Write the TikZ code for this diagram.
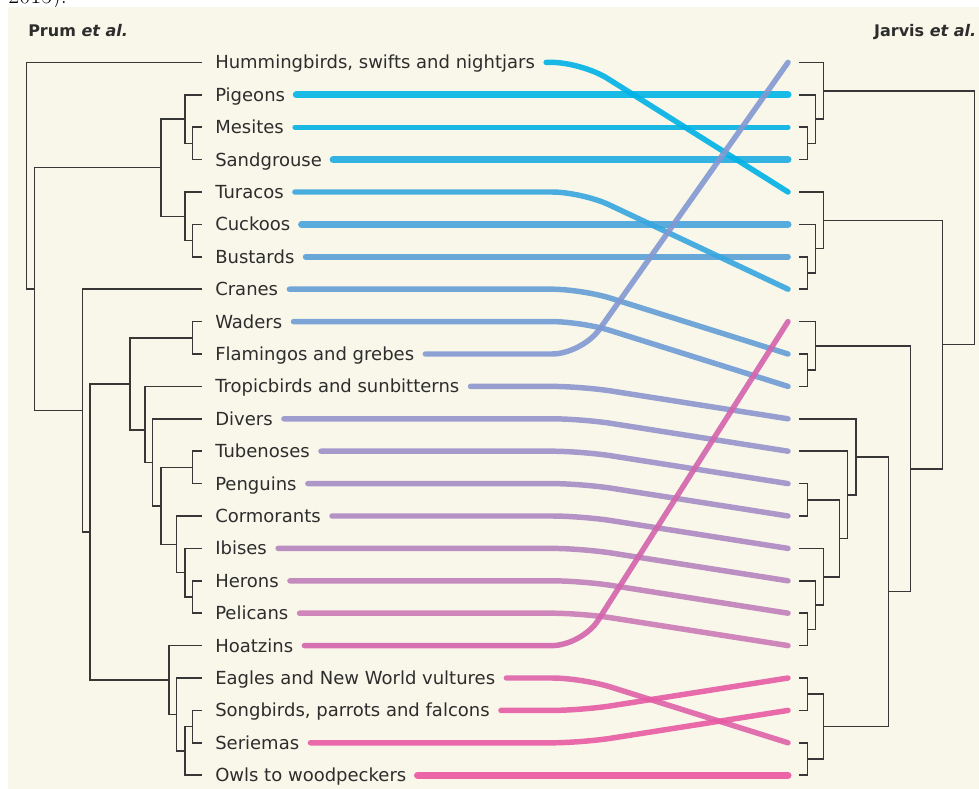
\documentclass[tikz,border=0pt]{standalone}
\usepackage{fontspec}
\newfontfamily\dejavu{DejaVu Sans}
\usetikzlibrary{calc}
\definecolor{cream}{RGB}{249,247,234}
\definecolor{ink}{RGB}{45,45,45}
\definecolor{treegray}{RGB}{55,55,55}
\definecolor{c0}{RGB}{0,178,230}
\definecolor{c1}{RGB}{0,180,230}
\definecolor{c2}{RGB}{5,178,228}
\definecolor{c3}{RGB}{30,172,225}
\definecolor{c4}{RGB}{55,166,222}
\definecolor{c5}{RGB}{70,164,220}
\definecolor{c6}{RGB}{88,160,216}
\definecolor{c7}{RGB}{100,158,214}
\definecolor{c8}{RGB}{112,155,212}
\definecolor{c9}{RGB}{130,152,210}
\definecolor{c10}{RGB}{140,150,206}
\definecolor{c11}{RGB}{150,147,203}
\definecolor{c12}{RGB}{158,143,200}
\definecolor{c13}{RGB}{165,140,197}
\definecolor{c14}{RGB}{173,136,194}
\definecolor{c15}{RGB}{182,132,190}
\definecolor{c16}{RGB}{192,127,186}
\definecolor{c17}{RGB}{202,122,182}
\definecolor{c18}{RGB}{212,100,172}
\definecolor{c19}{RGB}{222,98,168}
\definecolor{c20}{RGB}{230,92,164}
\definecolor{c21}{RGB}{233,90,162}
\definecolor{c22}{RGB}{235,86,160}
\tikzset{
  lab/.style={anchor=west, inner sep=0pt, text height=9.84pt, text depth=0pt,
    font=\dejavu\fontsize{13.5pt}{16pt}\selectfont, text=ink},
  head/.style={inner sep=0pt, font=\dejavu\bfseries\fontsize{12pt}{14pt}\selectfont, text=ink},
  tree/.style={draw=treegray, line width=1.1pt},
  lnk/.style={line width=4.1pt, line cap=round, opacity=0.9, rounded corners=22.5pt}
}
\begin{document}
\begin{tikzpicture}[x=0.75pt,y=-0.75pt]
\useasboundingbox (0,0) rectangle (979,789);
\clip (0,0) rectangle (979,789);
\fill[white] (0,0) rectangle (979,789);
\node[anchor=base west, inner sep=0pt, font=\fontsize{18pt}{20pt}\selectfont] (yr) at (8,3.5) {2015).};
\fill[cream] (8,7) rectangle (979,789);

% headers
\node[head, anchor=base west] (hp) at (28,36.7) {Prum \itshape et al.};
\node[head, anchor=base east] (hj) at (976.5,36) {Jarvis \itshape et al.};

% labels
\foreach \i/\t in {0/{Hummingbirds, swifts and nightjars},1/Pigeons,2/Mesites,3/Sandgrouse,
  4/Turacos,5/Cuckoos,6/Bustards,7/Cranes,8/Waders,9/Flamingos and grebes,
  10/Tropicbirds and sunbitterns,11/Divers,12/Tubenoses,13/Penguins,14/Cormorants,
  15/Ibises,16/Herons,17/Pelicans,18/Hoatzins,19/Eagles and New World vultures,
  20/{Songbirds, parrots and falcons},21/Seriemas,22/Owls to woodpeckers}
  \node[lab] (L\i) at (215,{62.4+32.4*\i}) {\t};

% right ends
\foreach \j in {0,...,22}
  \coordinate (R\j) at (788,{62.4+32.4*\j});
\coordinate (bend) at (582,0);

% left tree
\draw[tree] (202,127.2) -| (192.7,159.6) -- (202,159.6);
\draw[tree] (202,94.8) -| (185,143.4) -- (192.7,143.4);
\draw[tree] (202,224.4) -| (192.7,256.8) -- (202,256.8);
\draw[tree] (202,192) -| (185,240.6) -- (192.7,240.6);
\draw[tree] (185,119.1) -| (161,216.3) -- (185,216.3);
\draw[tree] (202,321.6) -| (192.7,354) -- (202,354);
\draw[tree] (202,451.2) -| (192.7,483.6) -- (202,483.6);
\draw[tree] (202,580.8) -| (192.7,613.2) -- (202,613.2);
\draw[tree] (202,548.4) -| (185,597) -- (192.7,597);
\draw[tree] (202,516) -| (176.7,572.7) -- (185,572.7);
\draw[tree] (192.7,467.4) -| (161,544.4) -- (176.7,544.4);
\draw[tree] (202,418.8) -| (152.7,505.9) -- (161,505.9);
\draw[tree] (202,386.4) -| (145,462.4) -- (152.7,462.4);
\draw[tree] (192.7,337.8) -| (130,430) -- (145,430);
\draw[tree] (202,710.4) -| (192.7,742.8) -- (202,742.8);
\draw[tree] (192.7,726.6) -| (185,775.2) -- (202,775.2);
\draw[tree] (202,678) -| (176.7,750.9) -- (185,750.9);
\draw[tree] (202,645.6) -| (169,714.5) -- (176.7,714.5);
\draw[tree] (130,384) -| (90,680) -- (169,680);
\draw[tree] (202,289.2) -| (82.3,532) -- (90,532);
\draw[tree] (161,167.7) -| (34.7,410.6) -- (82.3,410.6);
\draw[tree] (202,62.4) -| (26.7,289) -- (34.7,289);

% right tree
\draw[tree] (799,127.2) -| (807.7,159.6) -- (799,159.6);
\draw[tree] (799,94.8) -| (815.7,143.4) -- (807.7,143.4);
\draw[tree] (799,62.4) -| (823.3,119.1) -- (815.7,119.1);
\draw[tree] (799,256.8) -| (807.7,289.2) -- (799,289.2);
\draw[tree] (799,224.4) -| (815.7,273) -- (807.7,273);
\draw[tree] (799,192) -| (823.3,248.7) -- (815.7,248.7);
\draw[tree] (799,354) -| (807.7,386.4) -- (799,386.4);
\draw[tree] (799,321.6) -| (815.7,370.2) -- (807.7,370.2);
\draw[tree] (799,483.6) -| (807.7,516) -- (799,516);
\draw[tree] (799,613.2) -| (807.7,645.6) -- (799,645.6);
\draw[tree] (799,580.8) -| (815.7,629.4) -- (807.7,629.4);
\draw[tree] (799,548.4) -| (823.3,605.1) -- (815.7,605.1);
\draw[tree] (807.7,499.8) -| (839.3,576.8) -- (823.3,576.8);
\draw[tree] (799,451.2) -| (847.7,538.3) -- (839.3,538.3);
\draw[tree] (799,418.8) -| (856,494.8) -- (847.7,494.8);
\draw[tree] (799,678) -| (807.7,710.4) -- (799,710.4);
\draw[tree] (799,742.8) -| (807.7,775.2) -- (799,775.2);
\draw[tree] (807.7,694.2) -| (823.3,759) -- (807.7,759);
\draw[tree] (856,456.8) -| (888.3,726.6) -- (823.3,726.6);
\draw[tree] (815.7,345.9) -| (910.7,591.7) -- (888.3,591.7);
\draw[tree] (823.3,220.4) -| (942.7,468.8) -- (910.7,468.8);
\draw[tree] (823.3,90.8) -| (974.3,344.6) -- (942.7,344.6);

% unchanged links
\foreach \i/\w in {1/5.25,2/3.9,3/5.25,5/5.25,6/4.3,22/5.25}
  \draw[lnk, line width=\w pt, c\i] ([xshift=8.25pt]L\i.east) -- (R\i);

% moved links
\foreach \i/\j in {0/4,4/7,7/9,8/10,10/11,11/12,12/13,13/14,14/15,15/16,16/17,17/18,19/21,20/19,21/20,9/0,18/8}
  \draw[lnk, c\i] ([xshift=8.25pt]L\i.east) -- (L\i.east -| bend) -- (R\j);
\end{tikzpicture}
\end{document}
